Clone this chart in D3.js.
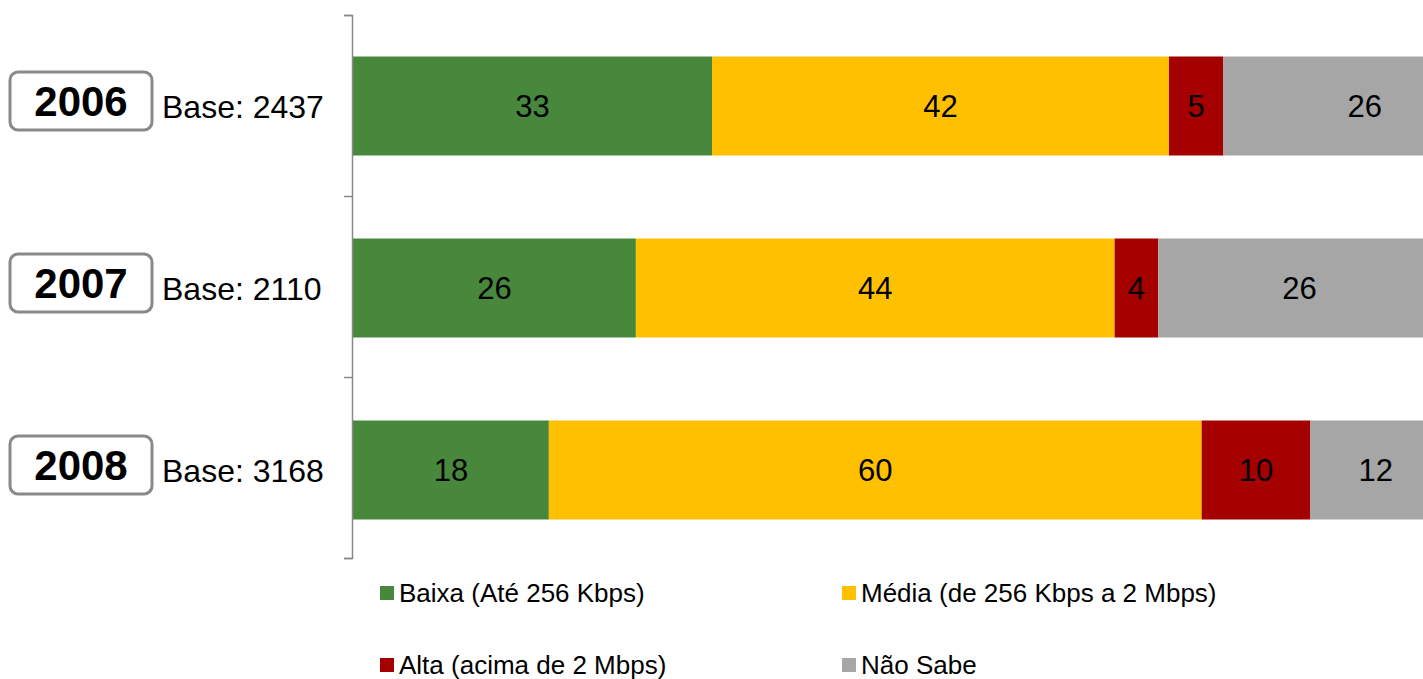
<!DOCTYPE html>
<html lang="en">
<head>
    <meta charset="UTF-8">
    <title>Velocidade de conexão</title>
    <script src="https://cdn.jsdelivr.net/npm/d3@7"></script>
    <style>
        body { margin: 0; background: #fff; }
        svg { display: block; font-family: "Liberation Sans", Arial, sans-serif; }
        .val { font-size: 31px; fill: #000; }
        .legend text { font-size: 26px; fill: #000; }
    </style>
</head>
<body>
<script>
    const years = ["2006", "2007", "2008"];
    const bases = ["Base: 2437", "Base: 2110", "Base: 3168"];
    const series = ["Baixa (Até 256 Kbps)", "Média (de 256 Kbps a 2 Mbps)", "Alta (acima de 2 Mbps)", "Não Sabe"];
    const colors = ["#48883c", "#ffc000", "#a50000", "#a6a6a6"];
    const baixa = [33, 26, 18];
    const media = [42, 44, 60];
    const alta = [5, 4, 10];
    const naoSabe = [26, 26, 12];

    const width = 1423, height = 679;
    const svg = d3.select("body").append("svg")
        .attr("width", width).attr("height", height);

    const x = d3.scaleLinear().domain([0, 100]).range([353, 1441]);
    const y = d3.scaleBand().domain(years).range([15, 561])
        .paddingInner(0.456).paddingOuter(0.228);

    // build stacked rows
    const rows = years.map((yr, i) => ({ year: yr, values: [baixa[i], media[i], alta[i], naoSabe[i]] }));
    const segs = [];
    rows.forEach(r => {
        let acc = 0;
        r.values.forEach((v, k) => {
            segs.push({ year: r.year, k: k, v: v, x0: acc, x1: acc + v });
            acc += v;
        });
    });

    svg.append("g").selectAll("rect")
        .data(segs).enter().append("rect")
        .attr("x", d => x(d.x0))
        .attr("width", d => x(d.x1) - x(d.x0))
        .attr("y", d => y(d.year))
        .attr("height", y.bandwidth())
        .attr("fill", d => colors[d.k]);

    svg.append("g").selectAll("text")
        .data(segs).enter().append("text")
        .attr("class", "val")
        .attr("x", d => x((d.x0 + d.x1) / 2))
        .attr("y", d => y(d.year) + y.bandwidth() / 2)
        .attr("dy", "0.36em")
        .attr("text-anchor", "middle")
        .text(d => d.v);

    // category axis with ticks between bands
    const yAxis = d3.scaleLinear().domain([0, 3]).range([15, 558]);
    const ax = svg.append("g")
        .attr("transform", "translate(352,0)")
        .call(d3.axisLeft(yAxis).ticks(3).tickSize(8).tickSizeOuter(8).tickFormat(""));
    ax.selectAll("path, line").attr("stroke", "#898989").attr("stroke-width", 1.5);

    // year boxes and base labels
    const lab = svg.append("g").selectAll("g")
        .data(years).enter().append("g")
        .attr("transform", d => `translate(0,${y(d) + y.bandwidth() / 2})`);
    lab.append("rect")
        .attr("x", 10).attr("y", -34).attr("width", 142).attr("height", 58)
        .attr("rx", 8).attr("fill", "#fff")
        .attr("stroke", "#898989").attr("stroke-width", 3);
    lab.append("text")
        .attr("x", 81).attr("y", -5).attr("dy", "0.36em")
        .attr("text-anchor", "middle")
        .attr("font-size", 42).attr("font-weight", "bold")
        .text(d => d);
    lab.append("text")
        .attr("x", 162).attr("y", 0).attr("dy", "0.36em")
        .attr("font-size", 32)
        .text((d, i) => bases[i]);

    // legend
    const legX = [380, 842], legY = [593, 665];
    const leg = svg.append("g").attr("class", "legend").selectAll("g")
        .data(series).enter().append("g")
        .attr("transform", (d, i) => `translate(${legX[i % 2]},${legY[Math.floor(i / 2)]})`);
    leg.append("rect")
        .attr("x", 0).attr("y", -7).attr("width", 14).attr("height", 14)
        .attr("fill", (d, i) => colors[i]);
    leg.append("text")
        .attr("x", 19).attr("y", 0).attr("dy", "0.36em")
        .text(d => d);
</script>
</body>
</html>
